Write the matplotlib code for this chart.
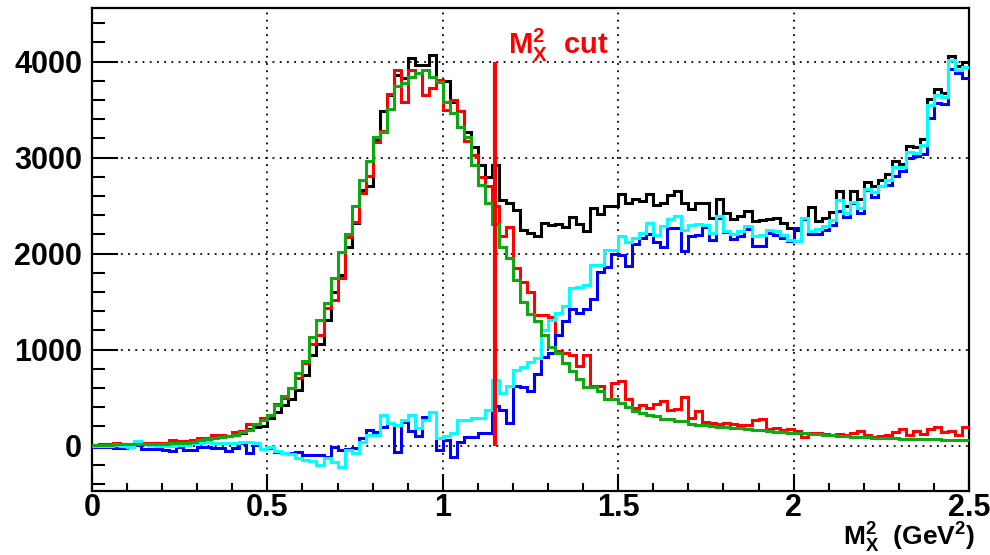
import numpy as np
import matplotlib
matplotlib.use("Agg")
import matplotlib.pyplot as plt
from matplotlib.ticker import MultipleLocator

plt.rcParams["font.family"] = ["Liberation Sans", "DejaVu Sans"]
plt.rcParams["font.weight"] = "bold"
plt.rcParams["mathtext.fontset"] = "custom"
plt.rcParams["mathtext.rm"] = "Liberation Sans:bold"
plt.rcParams["mathtext.it"] = "Liberation Sans:bold"
plt.rcParams["mathtext.bf"] = "Liberation Sans:bold"
plt.rcParams["mathtext.default"] = "rm"

# M_X^2 histogram range and binning (125 bins of 0.02 GeV^2)
x_min, x_max, n_bins = 0.0, 2.5, 125
mx2_cut = 1.15

# total data
data_total = [
    10, 15, 15, 20, 15, 10, 20, 20, 25, 25, 20, 30, 35, 40, 45, 50, 60, 75, 90, 100,
    115, 130, 175, 190, 200, 285, 345, 425, 485, 580, 735, 945, 1060, 1310, 1600, 1780, 2070, 2320, 2660, 2700,
    3185, 3480, 3650, 3860, 3825, 4035, 3960, 3960, 4070, 3800, 3800, 3580, 3480, 3270, 3115, 2925, 2800, 2925, 2560, 2525,
    2455, 2250, 2210, 2180, 2320, 2300, 2313, 2278, 2382, 2313, 2240, 2476, 2417, 2493, 2493, 2625, 2528, 2563, 2545, 2625,
    2510, 2528, 2615, 2649, 2528, 2465, 2528, 2528, 2372, 2570, 2424, 2361, 2389, 2441, 2337, 2347, 2361, 2372, 2316, 2267,
    2250, 2361, 2486, 2337, 2372, 2431, 2649, 2493, 2649, 2563, 2743, 2700, 2767, 2830, 2969, 2934, 3122, 3108, 3191, 3608,
    3712, 3670, 4059, 3955, 4000,
]

# background-subtracted data
data_signal = [
    10, 15, 20, 30, 20, 15, 25, 30, 30, 30, 25, 55, 45, 45, 60, 75, 80, 110, 110, 95,
    145, 150, 220, 225, 285, 319, 431, 493, 597, 701, 858, 1059, 1153, 1437, 1520, 1750, 2177, 2333, 2628, 2809,
    3167, 3281, 3663, 3913, 3583, 3913, 3880, 3650, 3720, 3810, 3500, 3600, 3480, 3170, 3030, 2800, 2700, 2500, 2180, 2280,
    1850, 1700, 1600, 1360, 1360, 1340, 980, 965, 948, 826, 948, 618, 620, 480, 650, 670, 480, 390, 425, 390,
    430, 460, 375, 385, 510, 290, 360, 250, 235, 229, 230, 225, 219, 215, 271, 278, 175, 185, 167, 170,
    150, 90, 130, 130, 125, 115, 120, 115, 130, 150, 110, 90, 95, 110, 140, 175, 110, 150, 120, 170,
    190, 140, 150, 110, 190,
]

# background estimate 1
bkg_a = [
    -15, -15, -20, -30, -30, -5, 5, -35, -40, -40, -45, -55, -10, -45, -45, -10, -15, -30, -30, -55,
    -30, 25, -80, 5, -35, -28, -63, -80, -80, -63, -97, -97, -97, -115, -10, -45, -38, -28, 76, 163,
    146, 198, 233, -63, 250, 150, 100, 302, 354, -45, 59, -115, 42, 94, 94, 135, 128, 415, 370, 237,
    620, 615, 570, 750, 920, 965, 1155, 1295, 1424, 1382, 1424, 1530, 1806, 1861, 2000, 1990, 1868, 2104, 2163, 2208,
    2118, 2069, 2267, 2267, 2024, 2188, 2198, 2278, 2146, 2372, 2222, 2153, 2188, 2257, 2083, 2076, 2215, 2198, 2163, 2128,
    2267, 2361, 2200, 2208, 2250, 2302, 2441, 2382, 2528, 2424, 2660, 2590, 2700, 2715, 2809, 2865, 2993, 3017, 3038, 3410,
    3566, 3559, 3920, 3878, 3826,
]

# background estimate 2
bkg_b = [
    -5, 0, 0, 5, -5, -20, 45, 15, 5, 0, -5, 0, 10, 10, 25, 30, 35, 25, 30, 25,
    25, 35, 40, 30, -40, -20, -60, -80, -90, -130, -150, -165, -200, -130, -170, -225, -45, -80, 42, 111,
    111, 319, 240, 215, 267, 319, 181, 267, 350, 76, 100, 128, 267, 267, 285, 285, 372, 684, 545, 620,
    790, 823, 870, 910, 1205, 1311, 1376, 1450, 1645, 1655, 1670, 1878, 1878, 2036, 2040, 2180, 2120, 2165, 2210, 2315,
    2190, 2290, 2360, 2389, 2250, 2302, 2313, 2302, 2210, 2396, 2233, 2208, 2233, 2285, 2181, 2198, 2243, 2233, 2198, 2146,
    2128, 2372, 2233, 2257, 2292, 2354, 2556, 2424, 2538, 2476, 2674, 2640, 2705, 2767, 2906, 2906, 3062, 3050, 3132, 3549,
    3653, 3628, 4017, 3913, 3948,
]

# simulation
simulation = [
    10, 10, 10, 12, 12, 12, 15, 15, 15, 18, 20, 22, 25, 30, 40, 55, 65, 75, 85, 95,
    110, 140, 165, 225, 267, 319, 424, 517, 597, 760, 885, 1135, 1309, 1483, 1743, 2017, 2201, 2497, 2767, 2969,
    3212, 3271, 3503, 3747, 3781, 3837, 3880, 3913, 3844, 3792, 3583, 3462, 3323, 3219, 2924, 2715, 2524, 2305, 2065, 1955,
    1726, 1500, 1370, 1300, 1153, 1031, 960, 860, 778, 690, 610, 608, 570, 481, 481, 443, 400, 365, 338, 316,
    306, 276, 272, 255, 253, 229, 219, 217, 205, 196, 194, 186, 181, 171, 166, 158, 154, 146, 143, 136,
    131, 128, 121, 118, 111, 108, 101, 99, 93, 91, 85, 83, 79, 77, 76, 73, 72, 69, 71, 65,
    68, 60, 58, 57, 55,
]

x_ticks = [0, 0.5, 1, 1.5, 2, 2.5]
x_tick_labels = ["0", "0.5", "1", "1.5", "2", "2.5"]
y_ticks = [0, 1000, 2000, 3000, 4000]
y_tick_labels = ["0", "1000", "2000", "3000", "4000"]

edges = np.linspace(x_min, x_max, n_bins + 1)

fig = plt.figure(figsize=(9.9, 5.55), dpi=100)
ax = fig.add_axes([0.0929, 0.1150, 0.8859, 0.8710])

lw = 2.2
ax.stairs(data_total, edges, color="black", lw=lw, baseline=None, zorder=3)
ax.stairs(data_signal, edges, color="#ff0000", lw=lw, baseline=None, zorder=3)
ax.stairs(bkg_a, edges, color="#0000ff", lw=lw, baseline=None, zorder=3)
ax.stairs(bkg_b, edges, color="#00ffff", lw=lw, baseline=None, zorder=4)
ax.stairs(simulation, edges, color="#10a810", lw=lw, baseline=None, zorder=5)

# cut line
ax.plot([mx2_cut, mx2_cut], [0, 4000], color="#ff0000", lw=3.0, zorder=6,
        solid_capstyle="butt")
ax.text(1.185, 4080, r"$M^{2}_{X}$  cut", color="#ff0000", fontsize=21,
        fontweight="bold", ha="left", va="baseline", zorder=7)

ax.set_xlim(x_min, x_max)
ax.set_ylim(-475, 4560)

ax.set_xticks(x_ticks)
ax.set_xticklabels(x_tick_labels)
ax.set_yticks(y_ticks)
ax.set_yticklabels(y_tick_labels)
ax.xaxis.set_minor_locator(MultipleLocator(0.1))
ax.yaxis.set_minor_locator(MultipleLocator(200))

ax.tick_params(axis="both", which="both", direction="in", top=False, right=False,
               width=1.5, labelsize=22)
ax.tick_params(axis="x", which="major", length=12, pad=1)
ax.tick_params(axis="x", which="minor", length=6)
ax.tick_params(axis="y", which="major", length=19, pad=7)
ax.tick_params(axis="y", which="minor", length=9.5)

ax.grid(True, which="major", color="black", linestyle=(0, (1, 3)), lw=1.3)
ax.set_axisbelow(True)
for s in ax.spines.values():
    s.set_linewidth(1.6)

fig.text(0.985, 0.0, r"$M^{2}_{X}$  (GeV$^{2}$)", ha="right", va="bottom",
         fontsize=19, fontweight="bold")

fig.savefig("out.png", dpi=100, facecolor="white")
